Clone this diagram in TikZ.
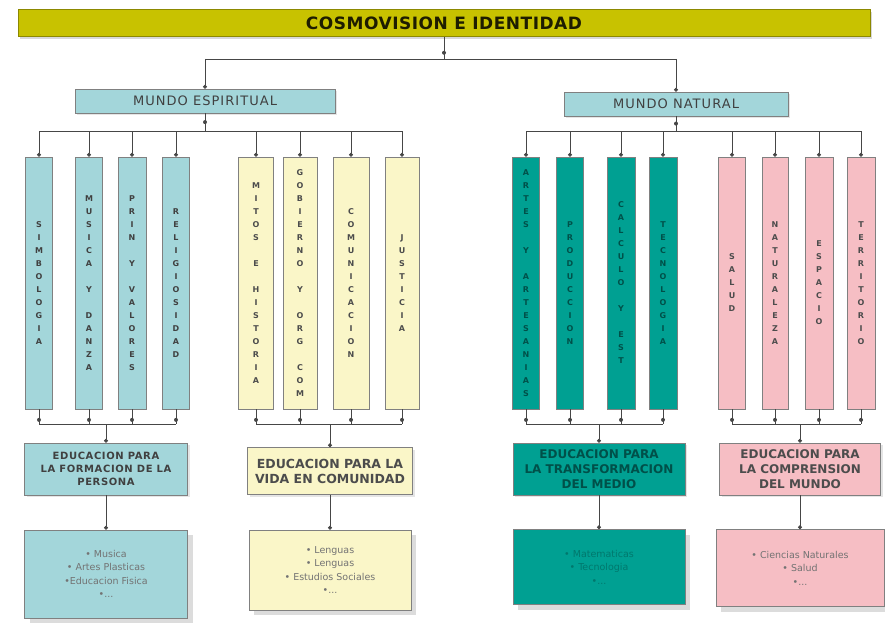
\documentclass[tikz,border=0pt]{standalone}
\usepackage{fontspec}
\setmainfont{DejaVu Sans}
\usepackage{tikz}
\usetikzlibrary{arrows.meta,positioning,shadows}

\definecolor{olivebar}{RGB}{200,194,0}
\definecolor{skyfill}{RGB}{163,214,218}
\definecolor{creamfill}{RGB}{250,246,200}
\definecolor{tealfill}{RGB}{0,160,146}
\definecolor{rosefill}{RGB}{246,190,196}
\definecolor{linegray}{RGB}{70,70,70}

% letters one under the other, ~ gives an empty line
\makeatletter
\newcommand\vword[1]{\def\vacc{}\def\vsep{}%
  \@tfor\vch:=#1\do{\edef\vacc{\unexpanded\expandafter{\vacc}\unexpanded\expandafter{\vsep}\unexpanded\expandafter{\vch}}\def\vsep{\\}}%
  \vacc}
\makeatother

\begin{document}
\begin{tikzpicture}
  [
    x=1pt, y=-1pt,
    Bar/.style={draw=olivebar!70!black, fill=olivebar, minimum width=852pt, minimum height=27pt, text=black!85!olivebar,
      font=\bfseries\fontsize{17}{20}\selectfont\addfontfeatures{LetterSpace=3}, drop shadow={shadow xshift=2pt, shadow yshift=-3pt, fill=gray!60}},
    World/.style={draw=gray, fill=skyfill, minimum height=24pt, text=black!75, font=\fontsize{13}{15}\selectfont\addfontfeatures{LetterSpace=8},
      drop shadow={shadow xshift=2pt, shadow yshift=-2pt, fill=gray!40}},
    Column/.style={draw=gray, minimum height=252pt, inner sep=0pt, align=center, font=\bfseries\fontsize{8}{13}\selectfont},
    Edu/.style={draw=gray, minimum height=52pt, inner sep=1pt, align=center,
      drop shadow={shadow xshift=2pt, shadow yshift=-2pt, fill=gray!40}},
    List/.style={draw=gray, inner sep=2pt, align=center, font=\fontsize{9.5}{13.5}\selectfont,
      drop shadow={shadow xshift=5pt, shadow yshift=-5pt, fill=gray!55}},
    Sky/.style={fill=skyfill, text=black!75},
    Cream/.style={fill=creamfill, text=black!70},
    Teal/.style={fill=tealfill, text=tealfill!50!black},
    Rose/.style={fill=rosefill, text=black!70},
    Link/.style={draw=linegray, line width=0.8pt},
    Tip/.style={Link, -{Circle[length=4pt]}},
    Dot/.style={circle, fill=linegray, inner sep=0pt, minimum size=4pt}
  ]
  \useasboundingbox (0,0) rectangle (885,626);

  % Nodes
  \node[Bar] (cosmo) at (444,23) {COSMOVISION E IDENTIDAD};
  \node[World, minimum width=260pt] (esp) at (205,101) {MUNDO ESPIRITUAL};
  \node[World, minimum width=224pt] (nat) at (676,104) {MUNDO NATURAL};

  \node[Column, Sky, minimum width=27pt] (simb) at (39,283) {\vword{SIMBOLOGIA}};
  \node[Column, Sky, minimum width=27pt] (musi) at (89,283) {\vword{MUSICA~Y~DANZA}};
  \node[Column, Sky, minimum width=28pt] (prin) at (132,283) {\vword{PRIN~Y~VALORES}};
  \node[Column, Sky, minimum width=27pt] (reli) at (176,283) {\vword{RELIGIOSIDAD}};
  \node[Column, Cream, minimum width=35pt] (mito) at (256,283) {\vword{MITOS~E~HISTORIA}};
  \node[Column, Cream, minimum width=34pt] (gobi) at (300,283) {\vword{GOBIERNO~Y~ORG~COM}};
  \node[Column, Cream, minimum width=36pt] (comu) at (351,283) {\vword{COMUNICACION}};
  \node[Column, Cream, minimum width=34pt] (just) at (402,283) {\vword{JUSTICIA}};

  \node[Column, Teal, minimum width=27pt] (arte) at (526,283) {\vword{ARTES~Y~ARTESANIAS}};
  \node[Column, Teal, minimum width=27pt] (prod) at (570,283) {\vword{PRODUCCION}};
  \node[Column, Teal, minimum width=28pt] (calc) at (621,283) {\vword{CALCULO~Y~EST}};
  \node[Column, Teal, minimum width=28pt] (tecn) at (663,283) {\vword{TECNOLOGIA}};
  \node[Column, Rose, minimum width=27pt] (salu) at (732,283) {\vword{SALUD}};
  \node[Column, Rose, minimum width=26pt] (natu) at (775,283) {\vword{NATURALEZA}};
  \node[Column, Rose, minimum width=28pt] (espa) at (819,283) {\vword{ESPACIO}};
  \node[Column, Rose, minimum width=28pt] (terr) at (861,283) {\vword{TERRITORIO}};

  \node[Edu, Sky, minimum width=163pt, font=\bfseries\fontsize{10}{13}\selectfont\addfontfeatures{LetterSpace=6}] (form) at (106,469)
    {EDUCACION PARA\\LA FORMACION DE LA\\PERSONA};
  \node[Edu, Cream, minimum width=165pt, minimum height=47pt, font=\bfseries\fontsize{12.5}{15}\selectfont] (vida) at (330,471)
    {EDUCACION PARA LA\\VIDA EN COMUNIDAD};
  \node[Edu, Teal, minimum width=172pt, font=\bfseries\fontsize{12}{15}\selectfont] (trans) at (599,469)
    {EDUCACION PARA\\LA TRANSFORMACION\\DEL MEDIO};
  \node[Edu, Rose, minimum width=161pt, font=\bfseries\fontsize{12}{15}\selectfont] (comp) at (800,469)
    {EDUCACION PARA\\LA COMPRENSION\\DEL MUNDO};

  \node[List, Sky, text=black!55, minimum width=163pt, minimum height=88pt] (formlist) at (106,574)
    {• Musica\\• Artes Plasticas\\•Educacion Fisica\\•...};
  \node[List, Cream, text=black!55, minimum width=162pt, minimum height=80pt] (vidalist) at (330,570)
    {• Lenguas\\• Lenguas\\• Estudios Sociales\\•...};
  \node[List, Teal, text=tealfill!75!black, minimum width=172pt, minimum height=75pt] (translist) at (599,567)
    {• Matematicas\\• Tecnologia\\•...};
  \node[List, Rose, text=black!55, minimum width=168pt, minimum height=77pt] (complist) at (800,568)
    {• Ciencias Naturales\\• Salud\\•...};

  \coordinate (top) at (444,59);
  \coordinate (espbar) at (205,131);
  \coordinate (natbar) at (676,131);
  \coordinate (formbar) at (106,424);
  \coordinate (vidabar) at (330,424);
  \coordinate (transbar) at (599,424);
  \coordinate (compbar) at (800,424);

  % Lines
  \draw[Link] (cosmo) -- node[Dot, pos=0.72] {} (top);
  \draw[Link] (esp.north |- top) -- (nat.north |- top);
  \draw[Tip] (esp.north |- top) -- (esp);
  \draw[Tip] (nat.north |- top) -- (nat);

  \draw[Link] (esp) -- node[Dot] {} (espbar);
  \draw[Link] (simb.north |- espbar) -- (just.north |- espbar);
  \foreach \c in {simb, musi, prin, reli, mito, gobi, comu, just}
    \draw[Tip] (\c.north |- espbar) -- (\c);

  \draw[Link] (nat) -- node[Dot] {} (natbar);
  \draw[Link] (arte.north |- natbar) -- (terr.north |- natbar);
  \foreach \c in {arte, prod, calc, tecn, salu, natu, espa, terr}
    \draw[Tip] (\c.north |- natbar) -- (\c);

  \foreach \c/\b in {simb/formbar, musi/formbar, prin/formbar, reli/formbar,
                     mito/vidabar, gobi/vidabar, comu/vidabar, just/vidabar,
                     arte/transbar, prod/transbar, calc/transbar, tecn/transbar,
                     salu/compbar, natu/compbar, espa/compbar, terr/compbar}
    \draw[Link] (\c) -- node[Dot, pos=0.72] {} (\c.south |- \b);
  \draw[Link] (simb.south |- formbar) -- (reli.south |- formbar);
  \draw[Link] (mito.south |- vidabar) -- (just.south |- vidabar);
  \draw[Link] (arte.south |- transbar) -- (tecn.south |- transbar);
  \draw[Link] (salu.south |- compbar) -- (terr.south |- compbar);

  \draw[Tip] (formbar) -- (form);
  \draw[Tip] (vidabar) -- (vida);
  \draw[Tip] (transbar) -- (trans);
  \draw[Tip] (compbar) -- (comp);

  \draw[Tip] (form) -- (formlist);
  \draw[Tip] (vida) -- (vidalist);
  \draw[Tip] (trans) -- (translist);
  \draw[Tip] (comp) -- (complist);

\end{tikzpicture}
\end{document}
